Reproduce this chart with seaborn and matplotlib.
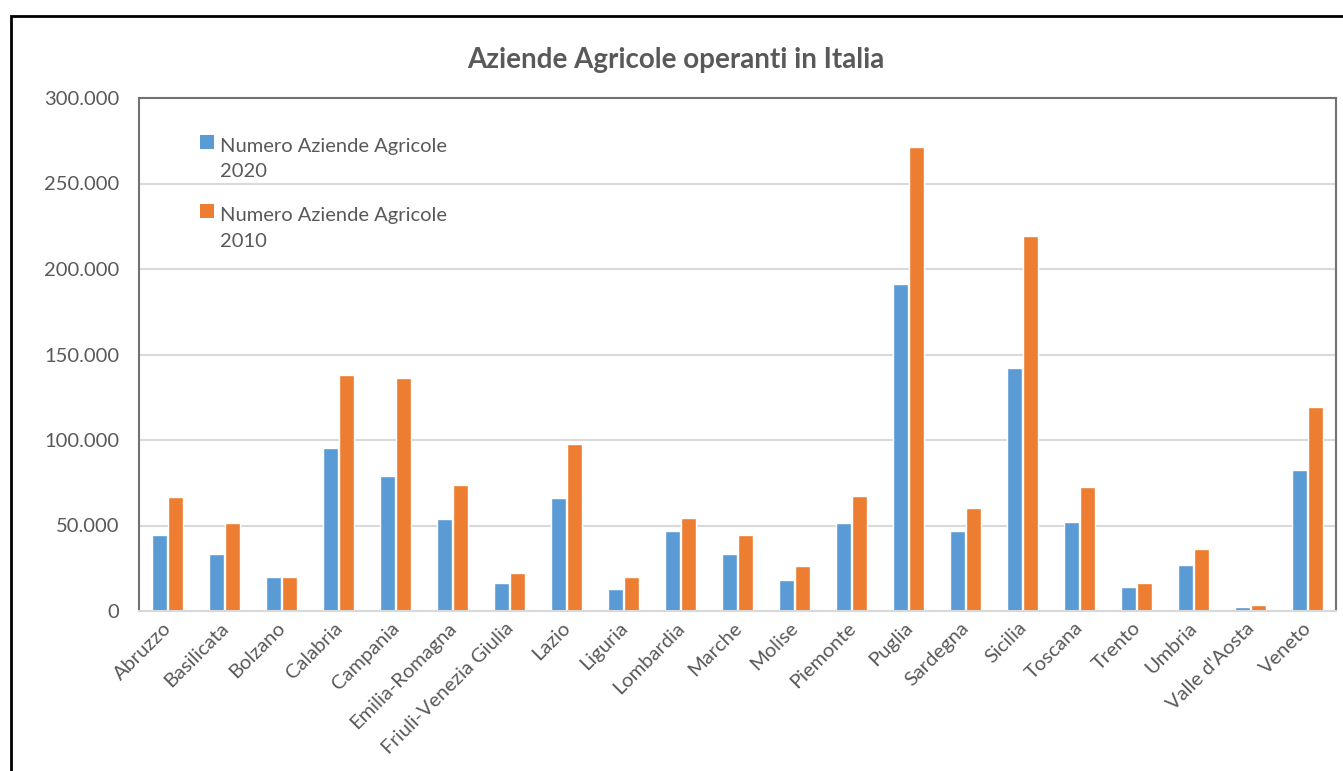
import pandas as pd
import matplotlib
matplotlib.use("Agg")
import matplotlib.pyplot as plt
import matplotlib.transforms as mtransforms
from matplotlib.patches import Rectangle, Patch
from matplotlib.legend_handler import HandlerPatch
from matplotlib.ticker import FuncFormatter
import seaborn as sns

# Data
regioni = ["Abruzzo", "Basilicata", "Bolzano", "Calabria", "Campania",
           "Emilia-Romagna", "Friuli-Venezia Giulia", "Lazio", "Liguria",
           "Lombardia", "Marche", "Molise", "Piemonte", "Puglia", "Sardegna",
           "Sicilia", "Toscana", "Trento", "Umbria", "Valle d'Aosta", "Veneto"]
aziende_2020 = [44500, 33600, 20000, 95400, 78900, 53800, 16500, 66100, 12800,
                47000, 33600, 18300, 51500, 191200, 47000, 142100, 52100,
                14100, 26900, 2400, 82600]
aziende_2010 = [66700, 51300, 20000, 137800, 136400, 73500, 22000, 97900, 20000,
                54400, 44600, 26300, 67300, 271600, 60500, 219500, 72800,
                16500, 36000, 3600, 119200]
serie = ["Numero Aziende Agricole 2020", "Numero Aziende Agricole 2010"]
colori = ["#5B9BD5", "#ED7D31"]

df = pd.DataFrame({
    "Regione": regioni * 2,
    "Aziende": aziende_2020 + aziende_2010,
    "Serie": [serie[0]] * len(regioni) + [serie[1]] * len(regioni),
})


# legend square aligned with the first line of a two-line label
class TopSquare(HandlerPatch):
    def create_artists(self, legend, orig_handle, xdescent, ydescent,
                       width, height, fontsize, trans):
        r = Rectangle((-xdescent, -ydescent + 0.85 * fontsize), width, height,
                      facecolor=orig_handle.get_facecolor(), linewidth=0,
                      transform=trans)
        return [r]


sns.set_style("white")
plt.rcParams["font.family"] = ["Lato", "DejaVu Sans"]
grigio = "#595959"

fig = plt.figure(figsize=(13.43, 7.71), dpi=100)
W, H = 1343, 771

# outer frame of the screenshot (black lines on top and left)
fig.add_artist(Rectangle((11 / W, -0.1), 1.2, 1 - 16 / H + 0.1,
                         transform=fig.transFigure, fill=False,
                         edgecolor="black", linewidth=2))

ax = fig.add_axes([139 / W, 1 - 611 / H, (1336 - 139) / W, (611 - 98) / H])
sns.barplot(data=df, x="Regione", y="Aziende", hue="Serie", palette=colori,
            width=0.56, gap=0.12, saturation=1, ax=ax, legend=False)

ax.set_ylim(0, 300000)
ax.set_xlim(-0.5, len(regioni) - 0.5)
ax.set_yticks(range(0, 300001, 50000))
ax.yaxis.set_major_formatter(FuncFormatter(lambda v, p: f"{int(v):,}".replace(",", ".")))
ax.yaxis.grid(True, color="#D9D9D9", linewidth=1.5)
ax.set_axisbelow(True)
ax.set_xlabel("")
ax.set_ylabel("")

for s in ["left", "top", "right"]:
    ax.spines[s].set_color("#767171")
    ax.spines[s].set_linewidth(1.5)
ax.spines["bottom"].set_color("#D9D9D9")
ax.spines["bottom"].set_linewidth(1.5)

ax.tick_params(axis="y", length=0, pad=14, labelsize=14.5, labelcolor=grigio)
ax.tick_params(axis="x", length=0, pad=6, labelsize=14.5, labelcolor=grigio)
offset = mtransforms.ScaledTranslation(-5 / 100, 0, fig.dpi_scale_trans)
for lab in ax.get_xticklabels():
    lab.set_rotation(45)
    lab.set_ha("right")
    lab.set_rotation_mode("anchor")
    lab.set_transform(lab.get_transform() + offset)

fig.text(676 / W, 1 - 60 / H, "Aziende Agricole operanti in Italia",
         fontsize=20, fontweight="bold", color=grigio, ha="center", va="center")

handles = [Patch(facecolor=c) for c in colori]
labels = ["Numero Aziende Agricole\n2020", "Numero Aziende Agricole\n2010"]
leg = ax.legend(handles, labels, loc="upper left", bbox_to_anchor=(0.036, 0.958),
                frameon=False, fontsize=14.5, labelcolor=grigio, handlelength=0.7,
                handleheight=0.7, handletextpad=0.3, labelspacing=1.35,
                handler_map={Patch: TopSquare()})
for t in leg.get_texts():
    t.set_linespacing(1.6)

fig.savefig("out.png", dpi=100)
